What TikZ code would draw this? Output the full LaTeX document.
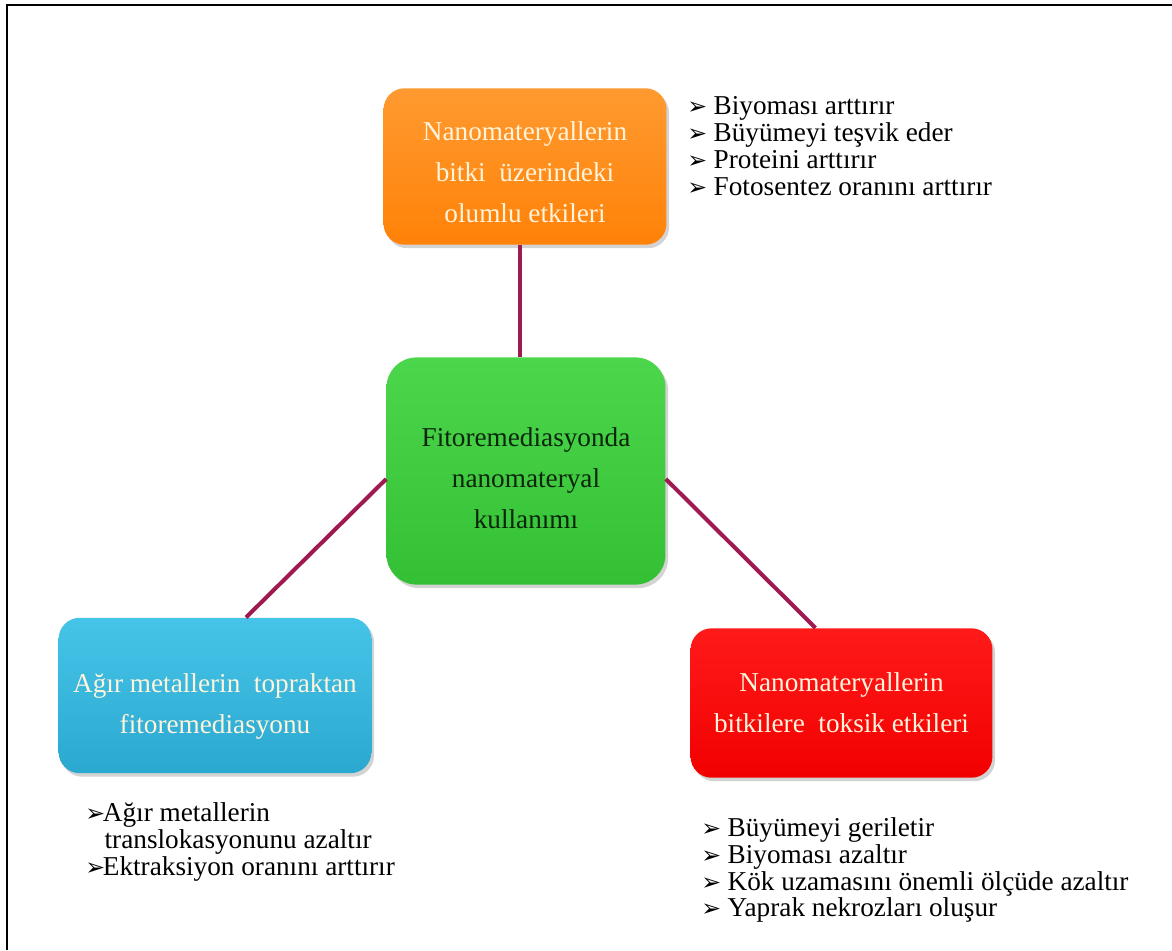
\documentclass[tikz,border=0pt]{standalone}
\usepackage{fontspec}
\setmainfont{Liberation Serif}
\newfontfamily\dejavu{DejaVu Sans}
\usetikzlibrary{shadows,calc}
\definecolor{link}{HTML}{9E1A50}
\definecolor{orangeA}{HTML}{FF9A30}
\definecolor{orangeB}{HTML}{FF8208}
\definecolor{greenA}{HTML}{4CD64C}
\definecolor{greenB}{HTML}{34C034}
\definecolor{blueA}{HTML}{46C4E8}
\definecolor{blueB}{HTML}{2AA8D0}
\definecolor{redA}{HTML}{FF1A1A}
\definecolor{redB}{HTML}{F20000}
\definecolor{lighttext}{HTML}{FFF4DC}
\definecolor{darktext}{HTML}{0B260B}
\newcommand\bulmark{{\dejavu\fontsize{13.5}{13.5}\selectfont ➢}}
\newcommand\bul[1][15pt]{\makebox[#1][l]{\bulmark}\rmfamily\fontsize{15.5}{15.3}\selectfont}
\newcommand\lift{\rule{0pt}{17pt}}
\tikzset{
  box/.style={rounded corners=12pt, inner sep=0pt, align=center,
    font=\rmfamily\fontsize{15.5}{23.2}\selectfont,
    drop shadow={opacity=0.35, shadow xshift=1.5pt, shadow yshift=-2pt}},
  conn/.style={draw=link, line width=2.3pt},
  listtext/.style={anchor=north west, inner sep=0pt, align=left,
    font=\rmfamily\fontsize{15.5}{15.3}\selectfont}
}
\begin{document}
\begin{tikzpicture}[x=0.02cm,y=-0.02cm]
\useasboundingbox (0,0) rectangle (1172,950);
\draw[line width=1.7pt] (7,950) -- (7,5) -- (1172,5);

\node[box, top color=orangeA, bottom color=orangeB, text=lighttext,
  minimum width=284*0.567pt, minimum height=157*0.567pt] (pos) at (525,166.5)
  {\lift Nanomateryallerin\\bitki\ \ üzerindeki\\olumlu etkileri};
\node[box, rounded corners=17pt, top color=greenA, bottom color=greenB, text=darktext,
  minimum width=280*0.567pt, minimum height=228*0.567pt] (use) at (526,471)
  {\rule{0pt}{19pt}Fitoremediasyonda\\nanomateryal\\kullanımı};
\node[box, top color=blueA, bottom color=blueB, text=lighttext,
  minimum width=314*0.567pt, minimum height=156*0.567pt] (metal) at (215,695.5)
  {\rule{0pt}{23pt}Ağır metallerin\ \ topraktan\\fitoremediasyonu};
\node[box, top color=redA, bottom color=redB, text=lighttext,
  minimum width=303*0.567pt, minimum height=150*0.567pt] (toxic) at (841.5,703)
  {Nanomateryallerin\\bitkilere\ \ toksik etkileri};

\draw[conn] ($(pos.south)+(-5,0)$) -- ($(use.north)+(-6,0)$);
\draw[conn] ($(use.west)+(0,8)$) -- ($(metal.north)+(31,0)$);
\draw[conn] ($(use.east)+(0,8)$) -- ($(toxic.north)+(-26,0)$);

\node[listtext] (poslist) at (687,96)
  {\bul Biyoması arttırır\\\bul Büyümeyi teşvik eder\\\bul Proteini arttırır\\\bul Fotosentez oranını arttırır};
\node[listtext] (metallist) at (85,802)
  {\bul[10pt]Ağır metallerin\\\hspace*{11pt}translokasyonunu azaltır\\\bul[10pt]Ektraksiyon oranını arttırır};
\node[listtext] (toxlist) at (701,817)
  {\bul Büyümeyi geriletir\\\bul Biyoması azaltır\\\bul Kök uzamasını önemli ölçüde azaltır\\\bul Yaprak nekrozları oluşur};
\end{tikzpicture}
\end{document}
